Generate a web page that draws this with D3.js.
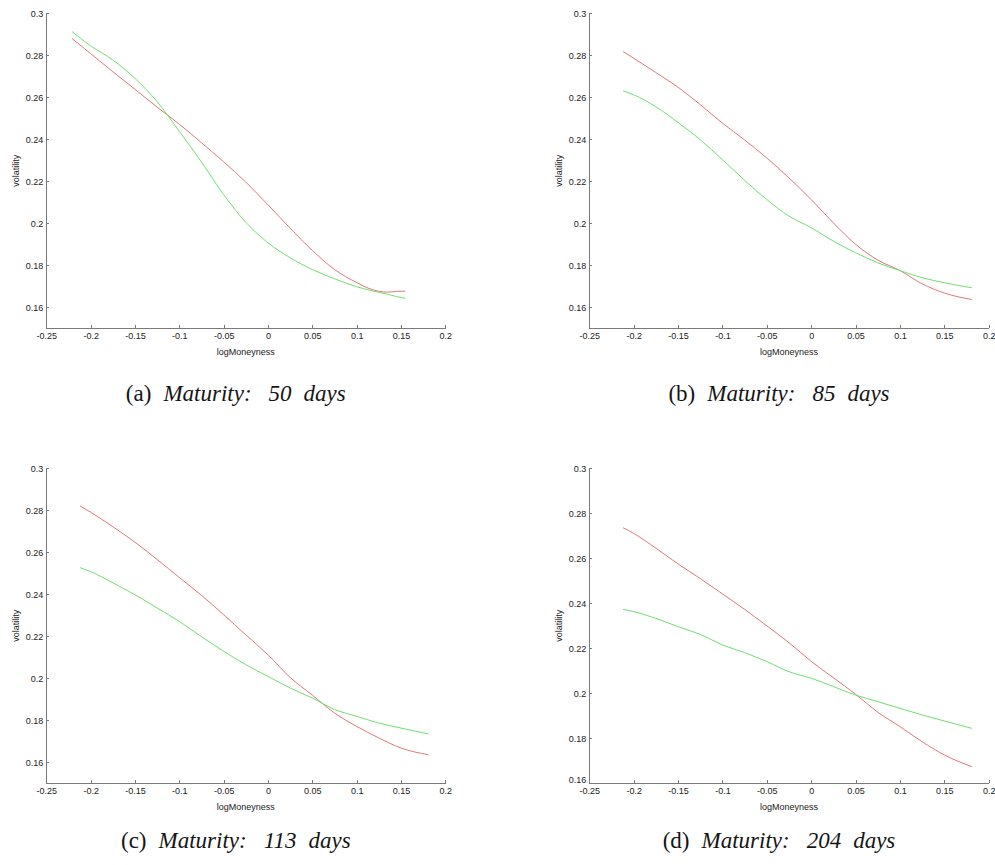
<!DOCTYPE html>
<html lang="en">

<head>
  <meta charset="UTF-8" />
  <title>Implied volatility by maturity</title>
  <script src="https://d3js.org/d3.v7.min.js"></script>
  <style>
    body {
      margin: 0;
      background-color: white;
    }

    svg {
      display: block;
    }

    .axis path,
    .axis line {
      stroke: #7a7a7a;
      shape-rendering: crispEdges;
    }

    .axis text,
    .label {
      font-family: "Liberation Sans", Arial, sans-serif;
      font-size: 9px;
      fill: #222;
    }

    .caption {
      font-family: "Liberation Serif", "DejaVu Serif", serif;
      font-size: 23px;
      fill: #151515;
    }
  </style>
</head>

<body>
  <script>
    // tick values shared by all four panels
    const xTicks = [-0.25, -0.2, -0.15, -0.1, -0.05, 0, 0.05, 0.1, 0.15, 0.2];
    const yTicksABC = [0.16, 0.18, 0.2, 0.22, 0.24, 0.26, 0.28, 0.3];
    const yTicksD = [0.16, 0.18, 0.2, 0.22, 0.24, 0.26, 0.28, 0.3];

    // (a) 50 days
    const xA = [-0.221, -0.2, -0.175, -0.15, -0.125, -0.1, -0.075, -0.05, -0.025, 0, 0.025, 0.05, 0.075, 0.1, 0.115, 0.135, 0.145, 0.155];
    const redA = [0.288, 0.2808, 0.2722, 0.2638, 0.2553, 0.2472, 0.2384, 0.2293, 0.2196, 0.2088, 0.1977, 0.1871, 0.178, 0.1718, 0.1688, 0.1672, 0.1676, 0.1677];
    const greenA = [0.2913, 0.2845, 0.2778, 0.269, 0.2579, 0.2438, 0.2292, 0.2137, 0.2005, 0.1907, 0.1836, 0.178, 0.1736, 0.1698, 0.1681, 0.1662, 0.1651, 0.1643];

    // (b) 85 days
    const xB = [-0.212, -0.2, -0.175, -0.15, -0.125, -0.1, -0.075, -0.05, -0.025, 0, 0.025, 0.05, 0.075, 0.1, 0.125, 0.15, 0.181];
    const redB = [0.2818, 0.2786, 0.2718, 0.2648, 0.2565, 0.2477, 0.2397, 0.2311, 0.2216, 0.2113, 0.2002, 0.19, 0.1825, 0.1775, 0.1712, 0.1668, 0.1637];
    const greenB = [0.2631, 0.2612, 0.2555, 0.248, 0.2398, 0.2303, 0.2205, 0.2113, 0.2034, 0.1979, 0.1915, 0.186, 0.1812, 0.1775, 0.1741, 0.1717, 0.1693];

    // (c) 113 days
    const xC = [-0.212, -0.2, -0.175, -0.15, -0.125, -0.1, -0.075, -0.05, -0.025, 0, 0.025, 0.05, 0.075, 0.1, 0.125, 0.15, 0.181];
    const redC = [0.2821, 0.2791, 0.2722, 0.2648, 0.2566, 0.248, 0.2395, 0.2303, 0.2207, 0.2112, 0.2004, 0.192, 0.1835, 0.1771, 0.1716, 0.1668, 0.1636];
    const greenC = [0.2527, 0.2508, 0.2455, 0.2398, 0.2335, 0.2271, 0.2198, 0.2129, 0.2065, 0.2009, 0.1954, 0.1906, 0.1852, 0.1819, 0.1787, 0.1763, 0.1735];

    // (d) 204 days
    const xD = [-0.212, -0.2, -0.175, -0.15, -0.125, -0.1, -0.075, -0.05, -0.025, 0, 0.025, 0.05, 0.075, 0.1, 0.125, 0.15, 0.181];
    const redD = [0.2736, 0.2711, 0.2645, 0.2575, 0.251, 0.2442, 0.2373, 0.23, 0.2225, 0.2142, 0.2069, 0.1996, 0.1916, 0.1852, 0.1785, 0.1726, 0.1674];
    const greenD = [0.2373, 0.2363, 0.2333, 0.2296, 0.2262, 0.2215, 0.2181, 0.2141, 0.2096, 0.2067, 0.203, 0.1992, 0.1963, 0.1933, 0.1904, 0.1877, 0.1844];

    const letters = ['(a)', '(b)', '(c)', '(d)'];
    const maturities = ['50', '85', '113', '204'];

    const W = 995;
    const H = 865;

    const panels = [
      { x: xA, red: redA, green: greenA, yDom: [0.15, 0.3], yTicks: yTicksABC, left: 46.3, top: 13.3, w: 399, cap: 401 },
      { x: xB, red: redB, green: greenB, yDom: [0.15, 0.3], yTicks: yTicksABC, left: 589.3, top: 13.3, w: 399.4, cap: 401 },
      { x: xC, red: redC, green: greenC, yDom: [0.15, 0.3], yTicks: yTicksABC, left: 46.3, top: 468.3, w: 399, cap: 848 },
      { x: xD, red: redD, green: greenD, yDom: [0.16, 0.3], yTicks: yTicksD, left: 589.3, top: 468.3, w: 399.4, cap: 848 }
    ];
    const ph = 315;

    const svg = d3.select('body')
      .append('svg')
      .attr('width', W)
      .attr('height', H);

    const fmt = d => String(+d.toFixed(2));

    panels.forEach((p, i) => {
      const g = svg.append('g')
        .attr('transform', `translate(${p.left},${p.top})`);

      const xScale = d3.scaleLinear()
        .domain([-0.25, 0.2])
        .range([0, p.w]);

      const yScale = d3.scaleLinear()
        .domain(p.yDom)
        .range([ph, 0]);

      // ticks point into the plot, like matlab
      g.append('g')
        .attr('class', 'axis')
        .attr('transform', `translate(0,${ph})`)
        .call(d3.axisBottom(xScale).tickValues(xTicks).tickFormat(fmt).tickSizeInner(-3).tickSizeOuter(0).tickPadding(4));

      const yAxis = g.append('g')
        .attr('class', 'axis')
        .call(d3.axisLeft(yScale).tickValues(p.yTicks).tickFormat(fmt).tickSizeInner(-3).tickSizeOuter(0).tickPadding(3));

      // bottom y label sits on the corner when the domain starts at a tick
      if (p.yDom[0] === p.yTicks[0]) {
        yAxis.selectAll('.tick text')
          .filter(d => d === p.yTicks[0])
          .attr('dy', '-0.1em');
      }

      const pts = (ys) => p.x.map((v, k) => [v, ys[k]]);
      const line = d3.line()
        .x(d => xScale(d[0]))
        .y(d => yScale(d[1]))
        .curve(d3.curveMonotoneX);

      g.append('path')
        .datum(pts(p.red))
        .attr('fill', 'none')
        .attr('stroke', '#e07878')
        .attr('stroke-width', 1)
        .attr('d', line);

      g.append('path')
        .datum(pts(p.green))
        .attr('fill', 'none')
        .attr('stroke', '#6ee06e')
        .attr('stroke-width', 1)
        .attr('d', line);

      g.append('text')
        .attr('class', 'label')
        .attr('x', p.w / 2)
        .attr('y', ph + 27)
        .attr('text-anchor', 'middle')
        .text('logMoneyness');

      g.append('text')
        .attr('class', 'label')
        .attr('transform', `translate(-27,${ph / 2}) rotate(-90)`)
        .attr('text-anchor', 'middle')
        .text('volatility');

      // caption under each panel
      const cap = svg.append('text')
        .attr('class', 'caption')
        .attr('x', p.left + p.w / 2 - 10)
        .attr('y', p.cap)
        .attr('text-anchor', 'middle');
      cap.append('tspan').text(letters[i]);
      cap.append('tspan').attr('dx', 12).style('font-style', 'italic').text('Maturity:');
      cap.append('tspan').attr('dx', 17).style('font-style', 'italic').text(maturities[i]);
      cap.append('tspan').attr('dx', 12).style('font-style', 'italic').text('days');
    });
  </script>
</body>

</html>
